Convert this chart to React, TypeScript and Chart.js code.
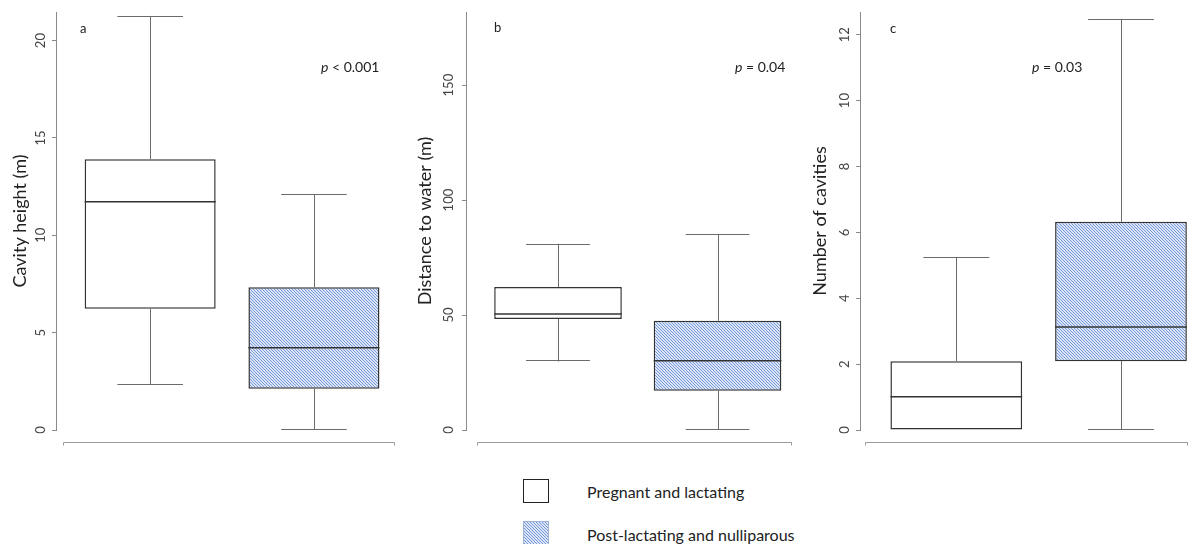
import React, { useEffect, useRef } from 'react';
import { Chart, registerables } from 'chart.js';

Chart.register(...registerables);

// ---------- data ----------
const groups = ['Pregnant and lactating', 'Post-lactating and nulliparous'];
const groupPositions = [1, 2];

const heightMin = [2.31, 0];
const heightQ1 = [6.23, 2.12];
const heightMedian = [11.73, 4.23];
const heightQ3 = [13.91, 7.33];
const heightMax = [21.27, 12.11];
const heightTicks = [0, 5, 10, 15, 20];

const waterMin = [29.8, 0];
const waterQ1 = [48.3, 17.1];
const waterMedian = [50.45, 30.1];
const waterQ3 = [62.2, 47.5];
const waterMax = [81.0, 85.3];
const waterTicks = [0, 50, 100, 150];

const cavMin = [0, 0];
const cavQ1 = [0, 2.09];
const cavMedian = [1.01, 3.13];
const cavQ3 = [2.09, 6.32];
const cavMax = [5.24, 12.47];
const cavTicks = [0, 2, 4, 6, 8, 10, 12];

const panelLetters = ['a', 'b', 'c'];
const pTexts = [' < 0.001', ' = 0.04', ' = 0.03'];
const axisTitles = ['Cavity height (m)', 'Distance to water (m)', 'Number of cavities'];

const FONT = 'Lato, "Open Sans", sans-serif';

type Panel = {
  min: number[]; q1: number[]; med: number[]; q3: number[]; max: number[]; ticks: number[];
  letter: string; pText: string; title: string;
  left: number; width: number; yMax: number; xMin: number; xMax: number;
  axisWidth: number; titlePad: number; tickPad: number; chartRight: number;
  letterPos: [number, number]; pPos: [number, number]; lineStart: number;
};

const panels: Panel[] = [
  {
    min: heightMin, q1: heightQ1, med: heightMedian, q3: heightQ3, max: heightMax, ticks: heightTicks,
    letter: panelLetters[0], pText: pTexts[0], title: axisTitles[0],
    left: 0, width: 400, yMax: 21.47, xMin: 0.4251, xMax: 2.495,
    axisWidth: 56, titlePad: 9.5, tickPad: 4, chartRight: 395,
    letterPos: [80, 29], pPos: [321, 67], lineStart: 7,
  },
  {
    min: waterMin, q1: waterQ1, med: waterMedian, q3: waterQ3, max: waterMax, ticks: waterTicks,
    letter: panelLetters[1], pText: pTexts[1], title: axisTitles[1],
    left: 400, width: 400, yMax: 181.8, xMin: 0.4232, xMax: 2.465,
    axisWidth: 66, titlePad: 14.5, tickPad: 2, chartRight: 391.7,
    letterPos: [94, 28], pPos: [335, 67], lineStart: 10.5,
  },
  {
    min: cavMin, q1: cavQ1, med: cavMedian, q3: cavQ3, max: cavMax, ticks: cavTicks,
    letter: panelLetters[2], pText: pTexts[2], title: axisTitles[2],
    left: 800, width: 396, yMax: 12.69, xMin: 0.4153, xMax: 2.407,
    axisWidth: 60, titlePad: 9.5, tickPad: 4, chartRight: 388,
    letterPos: [90, 29], pPos: [232, 67], lineStart: 5,
  },
];

const CANVAS_H = 450;

function makeHatch(ctx: CanvasRenderingContext2D): CanvasPattern | string {
  const c = document.createElement('canvas');
  c.width = 3;
  c.height = 3;
  const g = c.getContext('2d');
  if (!g) return '#b3c8ec';
  g.fillStyle = '#dbe5f7';
  g.fillRect(0, 0, 3, 3);
  g.fillStyle = '#7599db';
  for (let i = 0; i < 3; i++) g.fillRect(i, i, 1, 1);
  return ctx.createPattern(c, 'repeat') || '#b3c8ec';
}

function PanelChart({ panel }: { panel: Panel }) {
  const ref = useRef<HTMLCanvasElement | null>(null);
  useEffect(() => {
    const canvas = ref.current;
    if (!canvas) return;
    const ctx0 = canvas.getContext('2d');
    if (!ctx0) return;
    const hatch = makeHatch(ctx0);

    const boxPlugin = {
      id: 'boxWhiskers',
      afterDatasetsDraw(chart: any) {
        const meta = chart.getDatasetMeta(0);
        const y = chart.scales.y;
        const ctx = chart.ctx as CanvasRenderingContext2D;
        ctx.save();
        meta.data.forEach((bar: any, i: number) => {
          const { x, width } = bar.getProps(['x', 'width'], true);
          const pMin = y.getPixelForValue(panel.min[i]);
          const pMax = y.getPixelForValue(panel.max[i]);
          const pQ1 = y.getPixelForValue(panel.q1[i]);
          const pQ3 = y.getPixelForValue(panel.q3[i]);
          const pMed = y.getPixelForValue(panel.med[i]);
          const cx = Math.round(x) + 0.5;
          ctx.strokeStyle = '#6b6b6b';
          ctx.lineWidth = 1;
          ctx.beginPath();
          if (panel.max[i] > panel.q3[i]) {
            ctx.moveTo(cx, pQ3);
            ctx.lineTo(cx, pMax);
            ctx.moveTo(x - width / 4, Math.round(pMax) + 0.5);
            ctx.lineTo(x + width / 4, Math.round(pMax) + 0.5);
          }
          if (panel.min[i] < panel.q1[i]) {
            ctx.moveTo(cx, pQ1);
            ctx.lineTo(cx, pMin);
            ctx.moveTo(x - width / 4, Math.round(pMin) - 0.5);
            ctx.lineTo(x + width / 4, Math.round(pMin) - 0.5);
          }
          ctx.stroke();
          ctx.strokeStyle = '#333333';
          ctx.lineWidth = 1.5;
          ctx.beginPath();
          ctx.moveTo(x - width / 2, pMed);
          ctx.lineTo(x + width / 2, pMed);
          ctx.stroke();
        });
        ctx.restore();
      },
    };

    const decoPlugin = {
      id: 'panelDeco',
      afterDraw(chart: any) {
        const ctx = chart.ctx as CanvasRenderingContext2D;
        const area = chart.chartArea;
        ctx.save();
        // detached bottom axis line
        const ly = Math.round(area.bottom + 11.7) + 0.5;
        const lx0 = Math.round(area.left + panel.lineStart) + 0.5;
        const lx1 = Math.round(area.right) - 0.5;
        ctx.strokeStyle = '#9a9a9a';
        ctx.lineWidth = 1;
        ctx.beginPath();
        ctx.moveTo(lx0, ly + 3);
        ctx.lineTo(lx0, ly);
        ctx.lineTo(lx1, ly);
        ctx.lineTo(lx1, ly + 3);
        ctx.stroke();
        // panel letter
        ctx.fillStyle = '#222';
        ctx.textBaseline = 'middle';
        ctx.textAlign = 'left';
        ctx.font = `13px ${FONT}`;
        ctx.fillText(panel.letter, panel.letterPos[0], panel.letterPos[1]);
        // p value
        ctx.font = `italic 14px ${FONT}`;
        ctx.fillText('p', panel.pPos[0], panel.pPos[1]);
        const w = ctx.measureText('p').width;
        ctx.font = `14px ${FONT}`;
        ctx.fillText(panel.pText, panel.pPos[0] + w, panel.pPos[1]);
        ctx.restore();
      },
    };

    const chart = new Chart(canvas, {
      type: 'bar',
      data: {
        labels: groups,
        datasets: [
          {
            label: 'box',
            data: groupPositions.map((x, i) => ({ x, y: [panel.q1[i], panel.q3[i]] })) as any,
            backgroundColor: ['#ffffff', hatch] as any,
            borderColor: '#333333',
            borderWidth: 1.5,
            borderSkipped: false,
            categoryPercentage: 1,
            barPercentage: 0.8,
          },
        ],
      },
      options: {
        animation: false,
        responsive: false,
        maintainAspectRatio: false,
        devicePixelRatio: 1,
        layout: {
          padding: { left: 0, top: 12, right: panel.width - panel.chartRight, bottom: CANVAS_H - 430 },
        },
        plugins: {
          legend: { display: false },
          tooltip: { enabled: false },
        },
        scales: {
          x: {
            type: 'linear',
            min: panel.xMin,
            max: panel.xMax,
            display: false,
            offset: false,
            afterBuildTicks: (s: any) => {
              s.ticks = groupPositions.map((v) => ({ value: v }));
            },
          },
          y: {
            type: 'linear',
            position: 'left',
            min: 0,
            max: panel.yMax,
            afterBuildTicks: (s: any) => {
              s.ticks = panel.ticks.map((v) => ({ value: v }));
            },
            afterFit: (s: any) => {
              s.width = panel.axisWidth;
              s.paddingTop = 0;
              s.paddingBottom = 0;
            },
            grid: {
              drawOnChartArea: false,
              drawTicks: true,
              tickLength: 4,
              color: '#8a8a8a',
            },
            border: { display: true, color: '#8a8a8a', width: 1 },
            ticks: {
              minRotation: 90,
              maxRotation: 90,
              crossAlign: 'center',
              padding: panel.tickPad,
              color: '#444',
              font: { family: FONT, size: 13 },
            },
            title: {
              display: true,
              text: panel.title,
              color: '#222',
              font: { family: FONT, size: 18 },
              padding: { top: panel.titlePad, bottom: 0 },
            },
          },
        },
      } as any,
      plugins: [boxPlugin, decoPlugin],
    });
    return () => chart.destroy();
  }, [panel]);

  return (
    <canvas
      ref={ref}
      width={panel.width}
      height={CANVAS_H}
      style={{ position: 'absolute', left: panel.left, top: 0, width: panel.width, height: CANVAS_H }}
    />
  );
}

function HatchSwatch() {
  const ref = useRef<HTMLCanvasElement | null>(null);
  useEffect(() => {
    const c = ref.current;
    if (!c) return;
    const ctx = c.getContext('2d');
    if (!ctx) return;
    ctx.fillStyle = makeHatch(ctx) as any;
    ctx.fillRect(0, 0, c.width, c.height);
    ctx.strokeStyle = '#9fb3d8';
    ctx.lineWidth = 1;
    ctx.strokeRect(0.5, 0.5, c.width - 1, c.height - 1);
  }, []);
  return (
    <canvas ref={ref} width={26} height={24} style={{ position: 'absolute', left: 523, top: 521, width: 26, height: 24 }} />
  );
}

export default function App() {
  const textStyle: React.CSSProperties = {
    position: 'absolute',
    left: 587,
    fontFamily: FONT,
    fontSize: 16,
    color: '#222',
    lineHeight: '20px',
    whiteSpace: 'nowrap',
  };
  return (
    <div style={{ position: 'absolute', left: 0, top: 0, width: 1196, height: 544, background: '#fff', overflow: 'hidden' }}>
      {panels.map((p) => (
        <PanelChart key={p.letter} panel={p} />
      ))}
      <div
        style={{
          position: 'absolute', left: 523, top: 479, width: 24, height: 22,
          border: '1px solid #222', background: '#fff',
        }}
      />
      <div style={{ ...textStyle, top: 482 }}>{groups[0]}</div>
      <HatchSwatch />
      <div style={{ ...textStyle, top: 525 }}>{groups[1]}</div>
    </div>
  );
}
